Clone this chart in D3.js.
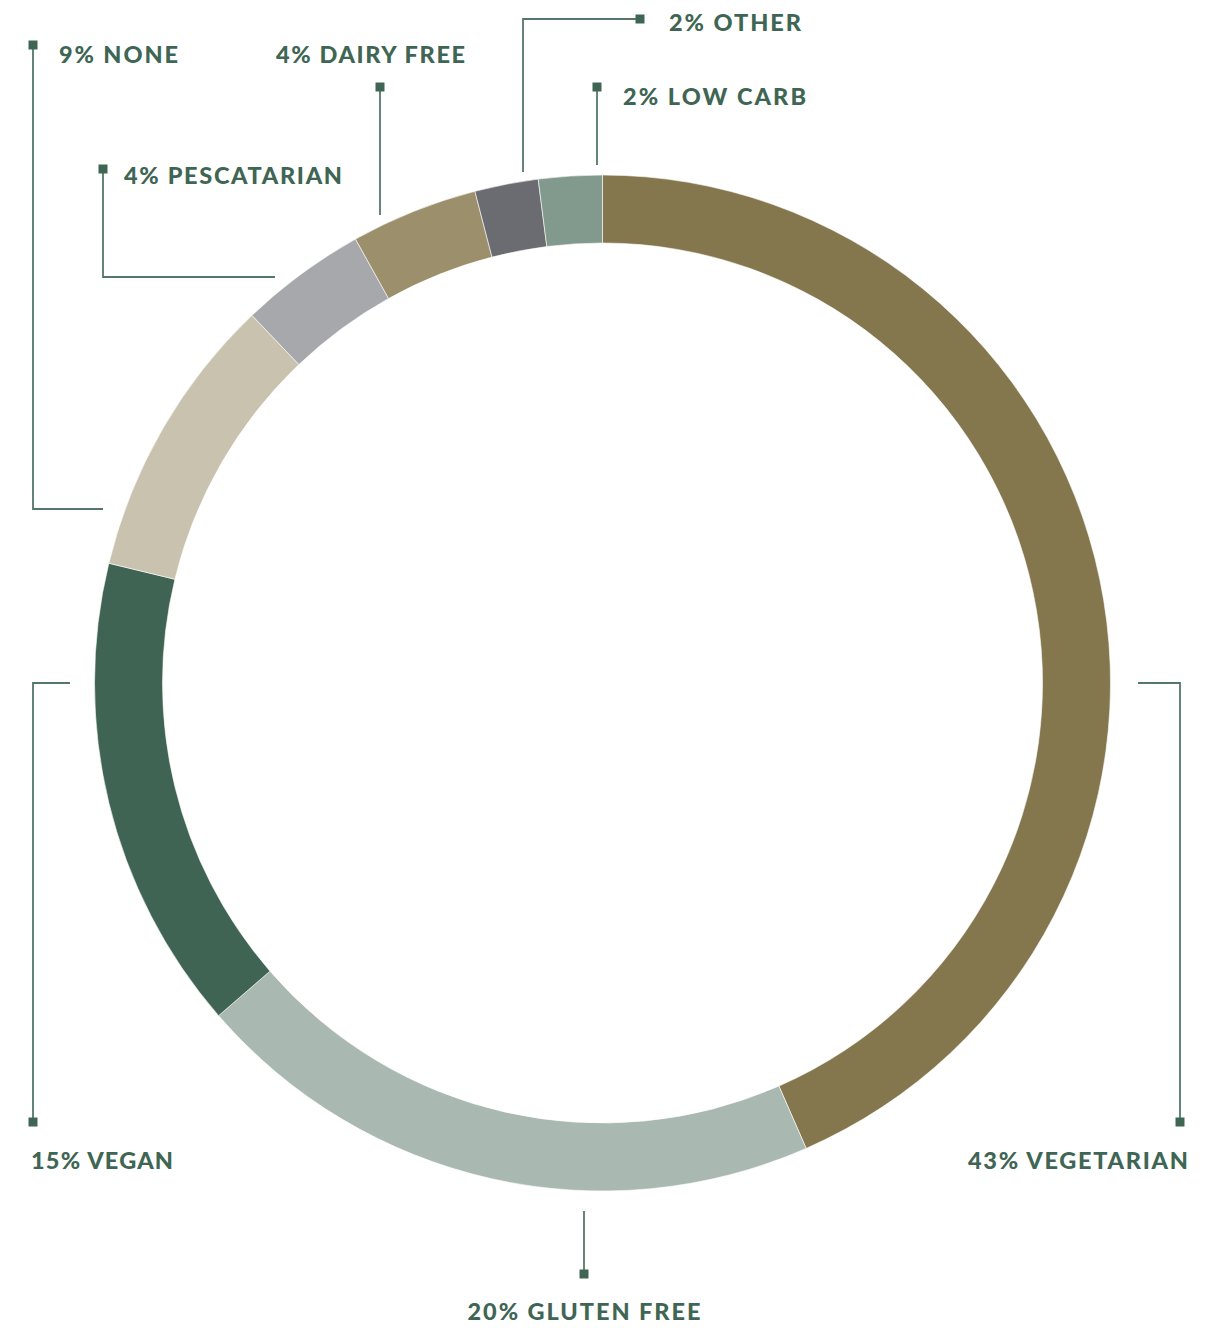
<!DOCTYPE html>
<html>
<head>
<meta charset="utf-8">
<script src="https://cdn.jsdelivr.net/npm/d3@7"></script>
<style>
  html, body { margin: 0; padding: 0; background: #ffffff; }
  svg { display: block; }
</style>
</head>
<body>
<div id="chart"></div>
<script>
// ---- Data ----
const categories = ["VEGETARIAN", "GLUTEN FREE", "VEGAN", "NONE", "PESCATARIAN", "DAIRY FREE", "OTHER", "LOW CARB"];
const values = [43, 20, 15, 9, 4, 4, 2, 2];
const colors = ["#84774e", "#a9b8b1", "#3f6453", "#c9c2ae", "#a7a8ac", "#9c8f6c", "#6b6c71", "#82998d"];

// ---- Annotation layout (label anchor, alignment, target width, leader polyline ending at marker) ----
const labelLayout = [
  { x: 1188, y: 1169, anchor: "end",    w: 220, leader: [[1138, 683], [1180, 683], [1180, 1122]] },
  { x: 584,  y: 1320, anchor: "middle", w: 233, leader: [[584, 1211], [584, 1274]] },
  { x: 31,   y: 1169, anchor: "start",  w: 142, leader: [[70, 683], [33, 683], [33, 1122]] },
  { x: 59,   y: 63,   anchor: "start",  w: 119, leader: [[103, 509], [33, 509], [33, 45]] },
  { x: 124,  y: 184,  anchor: "start",  w: 218, leader: [[275, 277], [103, 277], [103, 169]] },
  { x: 276,  y: 63,   anchor: "start",  w: 189, leader: [[380, 215], [380, 87]] },
  { x: 669,  y: 31,   anchor: "start",  w: 132, leader: [[523, 172], [523, 19], [640, 19]] },
  { x: 623,  y: 105,  anchor: "start",  w: 183, leader: [[597, 165], [597, 87]] }
];

const W = 1213, H = 1328;
const cx = 602.5, cy = 683, rOuter = 508, rInner = 440;
const ink = "#3f6654";

const svg = d3.select("#chart").append("svg")
  .attr("width", W).attr("height", H);

const data = categories.map((c, i) => ({ name: c, value: values[i], color: colors[i], layout: labelLayout[i] }));

const pie = d3.pie().sort(null).value(d => d.value);
const arc = d3.arc().innerRadius(rInner).outerRadius(rOuter);

const g = svg.append("g").attr("transform", `translate(${cx},${cy})`);
g.selectAll("path.slice")
  .data(pie(data))
  .join("path")
  .attr("class", "slice")
  .attr("d", arc)
  .attr("fill", d => d.data.color)
  .attr("stroke", "#ffffff")
  .attr("stroke-width", 0.6);

// Leader lines
const line = d3.line();
svg.selectAll("path.leader")
  .data(data)
  .join("path")
  .attr("class", "leader")
  .attr("d", d => line(d.layout.leader))
  .attr("fill", "none")
  .attr("stroke", "#55776a")
  .attr("stroke-width", 1.8);

// Markers (square at end of leader)
const ms = 9;
svg.selectAll("rect.marker")
  .data(data)
  .join("rect")
  .attr("class", "marker")
  .attr("x", d => d.layout.leader[d.layout.leader.length - 1][0] - ms / 2)
  .attr("y", d => d.layout.leader[d.layout.leader.length - 1][1] - ms / 2)
  .attr("width", ms).attr("height", ms)
  .attr("fill", ink);

// Labels
svg.selectAll("text.label")
  .data(data)
  .join("text")
  .attr("class", "label")
  .attr("x", d => d.layout.x)
  .attr("y", d => d.layout.y)
  .attr("text-anchor", d => d.layout.anchor)
  .attr("textLength", d => d.layout.w)
  .attr("lengthAdjust", "spacing")
  .attr("font-family", "Lato, 'Open Sans', sans-serif")
  .attr("font-weight", 900)
  .attr("font-size", 23.5)
  .attr("fill", ink)
  .text(d => `${d.value}% ${d.name}`);
</script>
</body>
</html>
